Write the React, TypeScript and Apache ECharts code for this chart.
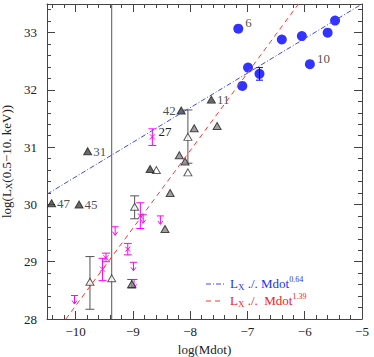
import React, { useEffect, useRef } from 'react';
import * as echarts from 'echarts';

// ---- axis ticks ----
const xMajorTicks = [-10, -9, -8, -7, -6, -5];
const yMajorTicks = [28, 29, 30, 31, 32, 33];

// ---- blue filled circles ----
const circleX = [-7.16, -6.99, -7.09, -6.79, -6.40, -6.05, -5.91, -5.60, -5.47];
const circleY = [33.07, 32.39, 32.07, 32.28, 32.88, 32.94, 32.45, 33.00, 33.21];
const circleLabel = ['6', '', '', '', '', '', '10', '', ''];
// blue error bar
const circleErrX = [-6.79];
const circleErrY = [32.28];
const circleErrLo = [32.17];
const circleErrHi = [32.39];

// ---- triangles ----
const triX = [-8.157, -7.63, -9.79, -10.42, -9.94, -7.93, -7.53, -8.19, -8.09, -8.04, -8.70, -8.59, -8.35, -8.44, -9.02, -8.04, -8.97, -9.75, -9.37];
const triY = [31.64, 31.83, 30.93, 30.02, 30.0, 31.33, 31.37, 30.86, 30.75, 30.56, 30.62, 30.60, 30.20, 29.57, 28.61, 31.18, 29.96, 28.65, 28.71];
const triKind = ['solid', 'solid', 'solid', 'solid', 'solid', 'hatched', 'hatched', 'hatched', 'hatched', 'open', 'solid', 'open', 'hatched', 'hatched', 'hatched', 'open', 'open', 'open', 'open'];
const triLabel = ['42', '11', '31', '47', '45', '', '', '', '', '', '', '', '', '', '', '', '', '', ''];
const triLabelSide = ['left', 'right', 'right', 'right', 'right', '', '', '', '', '', '', '', '', '', '', '', '', '', ''];
// black/gray error bars
const triErrX = [-9.02, -8.04, -8.97, -9.75, -9.37];
const triErrY = [28.61, 31.18, 29.96, 28.65, 28.71];
const triErrLo = [28.54, 30.72, 29.75, 28.17, 27.0];
const triErrHi = [28.69, 31.65, 30.15, 29.09, 34.0];

// ---- magenta crosses with error bars ----
const magX = [-8.66, -9.53, -9.47, -9.09, -8.87];
const magY = [31.18, 28.87, 29.07, 29.22, 29.80];
const magLo = [31.03, 28.67, 29.0, 29.12, 29.58];
const magHi = [31.32, 29.06, 29.15, 29.32, 30.03];
const magLabel = ['27', '', '', '', ''];

// ---- magenta upper limits ----
const ulX = [-10.02, -9.31, -8.99, -8.98, -8.82, -8.52];
const ulY = [28.41, 29.61, 28.99, 28.69, 29.82, 29.80];

// ---- fit lines ----
const blueFitX = [-10.5, -5.0];
const blueFitY = [30.18, 33.5];
const redFitX = [-10.17, -6.11];
const redFitY = [28.0, 33.5];

const FONT = 'Liberation Serif';
const TXT = '#222';

function minorTicks(lo: number, hi: number, step: number) {
  const out: number[] = [];
  const n = Math.round((hi - lo) / step);
  for (let i = 0; i <= n; i++) {
    const v = Math.round((lo + i * step) * 100) / 100;
    if (Math.abs(v - Math.round(v)) > 1e-6) out.push(v);
  }
  return out;
}
const xMinor = minorTicks(-10.4, -5.2, 0.2);
const yMinor = minorTicks(28.2, 33.4, 0.2);

const fmt = (v: number) => String(v).replace('-', '\u2212');

function errRender(color: string, cap: number, cross: boolean) {
  return (params: any, api: any) => {
    const x = api.value(0), y = api.value(1), lo = api.value(2), hi = api.value(3);
    const pt = api.coord([x, y]);
    const pl = api.coord([x, lo]);
    const ph = api.coord([x, hi]);
    const st = { stroke: color, lineWidth: 1 };
    const children: any[] = [
      { type: 'line', shape: { x1: pt[0], y1: ph[1], x2: pt[0], y2: pl[1] }, style: st },
      { type: 'line', shape: { x1: pt[0] - cap, y1: ph[1], x2: pt[0] + cap, y2: ph[1] }, style: st },
      { type: 'line', shape: { x1: pt[0] - cap, y1: pl[1], x2: pt[0] + cap, y2: pl[1] }, style: st },
    ];
    if (cross) {
      const c = 2.5;
      children.push({ type: 'line', shape: { x1: pt[0] - c, y1: pt[1] - c, x2: pt[0] + c, y2: pt[1] + c }, style: st });
      children.push({ type: 'line', shape: { x1: pt[0] - c, y1: pt[1] + c, x2: pt[0] + c, y2: pt[1] - c }, style: st });
      const lab = magLabel[params.dataIndex];
      if (lab) {
        children.push({
          type: 'text',
          x: pt[0] + 6,
          y: pt[1] - 5,
          style: { text: lab, fill: TXT, font: `13px "${FONT}"`, verticalAlign: 'middle', align: 'left' },
        });
      }
    }
    return { type: 'group', children };
  };
}

function ulRender(color: string) {
  return (params: any, api: any) => {
    const p = api.coord([api.value(0), api.value(1)]);
    const x = p[0], y = p[1];
    const st = { stroke: color, lineWidth: 1, fill: 'none' };
    return {
      type: 'group',
      children: [
        { type: 'line', shape: { x1: x - 3.5, y1: y, x2: x + 3.5, y2: y }, style: st },
        { type: 'line', shape: { x1: x, y1: y, x2: x, y2: y + 8 }, style: st },
        { type: 'polyline', shape: { points: [[x - 2.5, y + 5], [x, y + 8.5], [x + 2.5, y + 5]] }, style: st },
      ],
    };
  };
}

function triData(kind: string) {
  const out: any[] = [];
  triX.forEach((x, i) => {
    if (triKind[i] !== kind) return;
    const item: any = { value: [x, triY[i]] };
    if (triLabel[i]) {
      item.label = {
        show: true,
        formatter: triLabel[i],
        position: triLabelSide[i],
        distance: 1,
        fontFamily: FONT,
        fontSize: 13,
        color: TXT,
      };
    }
    out.push(item);
  });
  return out;
}

const axisLineStyle = { color: '#444', width: 1 };

function xAxisDef(position: 'top' | 'bottom', major: boolean, showLine: boolean, showLabel: boolean) {
  return {
    type: 'value',
    min: -10.5,
    max: -5,
    position,
    axisLine: { show: showLine, onZero: false, lineStyle: axisLineStyle },
    axisTick: { show: true, inside: true, length: major ? 8 : 4, customValues: major ? xMajorTicks : xMinor, lineStyle: axisLineStyle },
    axisLabel: showLabel
      ? { show: true, customValues: xMajorTicks, formatter: fmt, margin: 6, fontFamily: FONT, fontSize: 13, color: TXT }
      : { show: false },
    splitLine: { show: false },
  };
}

function yAxisDef(position: 'left' | 'right', major: boolean, showLine: boolean, showLabel: boolean) {
  return {
    type: 'value',
    min: 28,
    max: 33.5,
    position,
    axisLine: { show: showLine, onZero: false, lineStyle: axisLineStyle },
    axisTick: { show: true, inside: true, length: major ? 8 : 4, customValues: major ? yMajorTicks : yMinor, lineStyle: axisLineStyle },
    axisLabel: showLabel
      ? { show: true, customValues: yMajorTicks, formatter: fmt, margin: 10, fontFamily: FONT, fontSize: 13, color: TXT }
      : { show: false },
    splitLine: { show: false },
  };
}

export default function App() {
  const ref = useRef<HTMLDivElement>(null);
  useEffect(() => {
    const chart = echarts.init(ref.current!, null, { renderer: 'svg' });
    const xa: any[] = [
      { ...xAxisDef('bottom', true, true, true), name: 'log(Mdot)', nameLocation: 'middle', nameGap: 18, nameTextStyle: { fontFamily: FONT, fontSize: 13, color: TXT } },
      xAxisDef('bottom', false, false, false),
      xAxisDef('top', true, true, false),
      xAxisDef('top', false, false, false),
    ];
    const ya: any[] = [
      {
        ...yAxisDef('left', true, true, true),
        name: 'log(L{sub|X}(0.5\u221210. keV))',
        nameLocation: 'middle',
        nameRotate: 90,
        nameGap: 24,
        nameTextStyle: {
          fontFamily: FONT, fontSize: 13, color: TXT,
          rich: { sub: { fontFamily: FONT, fontSize: 9, color: TXT, verticalAlign: 'bottom', padding: [4, 0, 0, 0] } },
        },
      },
      yAxisDef('left', false, false, false),
      yAxisDef('right', true, true, false),
      yAxisDef('right', false, false, false),
    ];
    const legendText = (txt: string, color: string) => ({
      text: txt,
      fill: color,
      font: `13px "${FONT}"`,
      verticalAlign: 'middle',
      rich: {
        n: { fontFamily: FONT, fontSize: 13, fill: color, color },
        sub: { fontFamily: FONT, fontSize: 9, color, verticalAlign: 'bottom', padding: [7, 0, 0, 0] },
        sup: { fontFamily: FONT, fontSize: 8, color, verticalAlign: 'top', padding: [0, 0, 8, 0] },
      },
    });
    chart.setOption({
      animation: false,
      backgroundColor: '#fff',
      grid: { left: 47, right: 12, top: 4, bottom: 38, outerBoundsMode: 'none' },
      xAxis: xa,
      yAxis: ya,
      graphic: [
        { type: 'line', shape: { x1: 206, y1: 284, x2: 225, y2: 284 }, style: { stroke: '#4444ff', lineWidth: 1, lineDash: [5, 2, 1, 2] } },
        { type: 'text', x: 230, y: 283, style: legendText('{n|L}{sub|X}{n| ./. Mdot}{sup|0.64}', '#2233ee') },
        { type: 'line', shape: { x1: 206, y1: 301, x2: 222, y2: 301 }, style: { stroke: '#ff3333', lineWidth: 1, lineDash: [5, 4] } },
        { type: 'text', x: 230, y: 300, style: legendText('{n|L}{sub|X}{n| ./.  Mdot}{sup|1.39}', '#ee2222') },
      ],
      series: [
        {
          type: 'line',
          data: blueFitX.map((x, i) => [x, blueFitY[i]]),
          showSymbol: false,
          lineStyle: { color: '#4444ff', width: 1, type: [5, 2, 1, 2] },
          clip: true,
          silent: true,
        },
        {
          type: 'line',
          data: redFitX.map((x, i) => [x, redFitY[i]]),
          showSymbol: false,
          lineStyle: { color: '#ff3333', width: 1, type: [5, 4] },
          clip: true,
          silent: true,
        },
        {
          type: 'custom',
          renderItem: errRender('#555', 4.5, false),
          data: triErrX.map((x, i) => [x, triErrY[i], triErrLo[i], triErrHi[i]]),
          encode: { x: 0, y: [1, 2, 3] },
          clip: true,
          silent: true,
        },
        {
          type: 'custom',
          renderItem: errRender('#ff00ff', 4, true),
          data: magX.map((x, i) => [x, magY[i], magLo[i], magHi[i]]),
          encode: { x: 0, y: [1, 2, 3] },
          clip: true,
          silent: true,
        },
        {
          type: 'custom',
          renderItem: ulRender('#ff00ff'),
          data: ulX.map((x, i) => [x, ulY[i]]),
          encode: { x: 0, y: 1 },
          clip: true,
          silent: true,
        },
        {
          type: 'custom',
          renderItem: errRender('#0000ff', 3.5, false),
          data: circleErrX.map((x, i) => [x, circleErrY[i], circleErrLo[i], circleErrHi[i]]),
          encode: { x: 0, y: [1, 2, 3] },
          clip: true,
          silent: true,
        },
        {
          type: 'scatter',
          symbol: 'triangle',
          symbolSize: [8, 7],
          itemStyle: { color: '#fff', borderColor: '#333', borderWidth: 1 },
          data: triData('open'),
        },
        {
          type: 'scatter',
          symbol: 'triangle',
          symbolSize: [8, 7],
          itemStyle: { color: '#888', borderColor: '#222', borderWidth: 1 },
          data: triData('hatched'),
        },
        {
          type: 'scatter',
          symbol: 'triangle',
          symbolSize: [8, 7],
          itemStyle: { color: '#444', borderColor: '#222', borderWidth: 1 },
          data: triData('solid'),
        },
        {
          type: 'scatter',
          symbol: 'circle',
          symbolSize: 10,
          itemStyle: { color: '#0000ff' },
          data: circleX.map((x, i) => {
            const item: any = { value: [x, circleY[i]] };
            if (circleLabel[i]) {
              item.label = {
                show: true,
                formatter: circleLabel[i],
                position: 'right',
                distance: 2,
                offset: [0, -6],
                fontFamily: FONT,
                fontSize: 13,
                color: TXT,
              };
            }
            return item;
          }),
        },
      ],
    });
    return () => chart.dispose();
  }, []);
  return <div ref={ref} style={{ position: 'fixed', left: 0, top: 0, width: 374, height: 357 }} />;
}
